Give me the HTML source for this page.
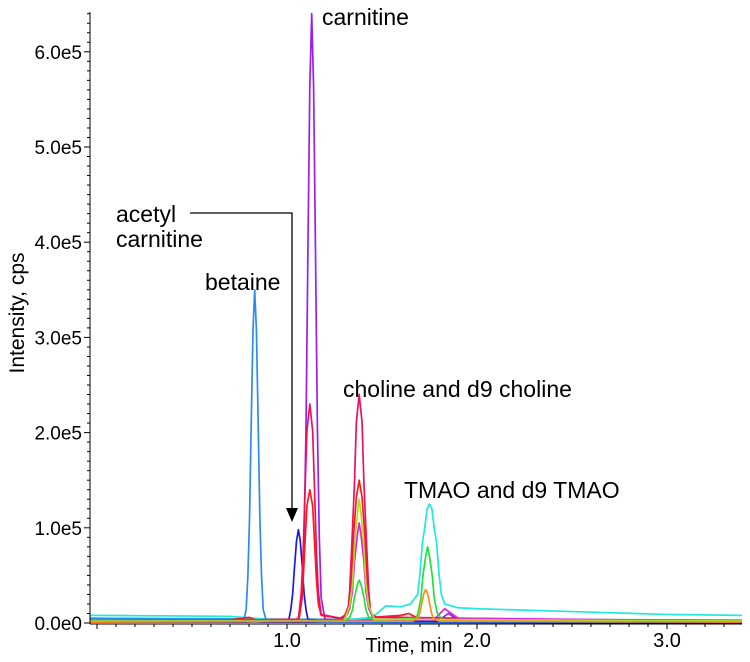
<!DOCTYPE html>
<html><head><meta charset="utf-8"><style>
body{margin:0;background:#fff;}
svg{display:block;font-family:"Liberation Sans",Arial,sans-serif;}
</style></head><body>
<svg id="chart" width="750" height="662">
<g id="traces"></g>
<g id="axes"></g>
<g id="labels">
<text x="322" y="25" font-size="23">carnitine</text>
<text x="116" y="222" font-size="23">acetyl</text>
<text x="116" y="247" font-size="23">carnitine</text>
<text x="205" y="290" font-size="23">betaine</text>
<text x="343" y="397" font-size="23">choline and d9 choline</text>
<text x="404" y="498" font-size="23">TMAO and d9 TMAO</text>
<polyline points="190,213 292,213 292,508" fill="none" stroke="#000" stroke-width="1.3"/>
<polygon points="286,508 298,508 292,522" fill="#000"/>
<text x="24" y="313" font-size="21" transform="rotate(-90 24 313)" text-anchor="middle">Intensity, cps</text>
<text x="409" y="652" font-size="20" text-anchor="middle">Time, min</text>
</g>
</svg>
<script>
const yTicks=[0,100000,200000,300000,400000,500000,600000];
const yTickLabels=["0.0e0","1.0e5","2.0e5","3.0e5","4.0e5","5.0e5","6.0e5"];
const xTicks=[1,2,3];
const xTickLabels=["1.0","2.0","3.0"];
const seriesNames=["baseline-navy","baseline-teal","cyan-tmao","betaine","acetylcarnitine","carnitine","red","crimson","magenta","green","yellowgreen","orange"];
const seriesColors=["#1010a0","#3aa0c0","#22e8e0","#2a8cf0","#1a1ad8","#9a1ef0","#ff1a1a","#f0105a","#e020e0","#22e040","#a8e020","#ff8c1a"];
const navyData=[[-0.04,1000],[0.8,1000],[0.83,4000],[0.86,1000],[3.4,0]];
const tealData=[[-0.04,5000],[1.0,4000],[2.0,4000],[3.4,3000]];
const cyanData=[[-0.04,8000],[0.7,7000],[0.95,3000],[1.3,3000],[1.45,6000],[1.52,18000],[1.6,17000],[1.65,20000],[1.6875,30000],[1.7,52000],[1.7125,84000],[1.725,100000],[1.7375,120000],[1.75,125000],[1.7625,120000],[1.775,100000],[1.7875,84000],[1.8,52000],[1.8125,30000],[1.83,20000],[1.9,16000],[2.0,15000],[2.5,12000],[3.0,9000],[3.4,8000]];
const betaineData=[[-0.04,5000],[0.7,4000],[0.775,5000],[0.785,14000],[0.794,49000],[0.803,112000],[0.812,213000],[0.821,308000],[0.83,350000],[0.839,308000],[0.848,213000],[0.857,112000],[0.866,49000],[0.875,14000],[0.89,3000],[1.2,1000],[3.4,1000]];
const acetylData=[[-0.04,2000],[0.98,1000],[1.01,4000],[1.02,14000],[1.03,31000],[1.04,60000],[1.05,86000],[1.06,98000],[1.07,86000],[1.08,60000],[1.09,31000],[1.1,14000],[1.11,4000],[1.2,2000],[3.4,1000]];
const carnitineData=[[-0.04,2000],[1.06,3000],[1.08,26000],[1.09,90000],[1.1,205000],[1.11,390000],[1.12,563000],[1.13,640000],[1.14,563000],[1.15,390000],[1.16,205000],[1.17,90000],[1.18,26000],[1.2,4000],[1.3,2000],[1.8,3000],[1.85,10000],[1.9,3000],[3.4,2000]];
const redData=[[-0.04,1000],[0.7,3000],[0.8,6000],[0.85,2000],[1.05,4000],[1.065,6000],[1.075,20000],[1.085,45000],[1.095,85000],[1.105,123000],[1.12,140000],[1.135,123000],[1.145,85000],[1.155,45000],[1.165,20000],[1.18,8000],[1.28,5000],[1.3,6000],[1.33,21000],[1.34,48000],[1.35,91000],[1.365,132000],[1.38,150000],[1.395,132000],[1.41,91000],[1.42,48000],[1.43,21000],[1.45,6000],[1.6,8000],[1.64,10000],[1.7,4000],[3.4,1000]];
const crimsonData=[[-0.04,1000],[1.06,4000],[1.075,32000],[1.085,74000],[1.095,140000],[1.105,202000],[1.12,230000],[1.135,202000],[1.145,140000],[1.155,74000],[1.165,32000],[1.18,9000],[1.28,5000],[1.32,10000],[1.33,34000],[1.34,77000],[1.355,146000],[1.365,211000],[1.38,240000],[1.395,211000],[1.405,146000],[1.42,77000],[1.43,34000],[1.44,10000],[1.47,6000],[1.6,6000],[3.4,1000]];
const magentaData=[[-0.04,3000],[1.3,3000],[1.33,15000],[1.345,34000],[1.355,64000],[1.37,92000],[1.38,105000],[1.39,92000],[1.405,64000],[1.415,34000],[1.43,15000],[1.46,4000],[1.78,5000],[1.83,15000],[1.9,5000],[3.4,2000]];
const greenData=[[-0.04,2000],[1.3,2000],[1.33,6000],[1.345,14000],[1.355,27000],[1.37,40000],[1.38,45000],[1.39,40000],[1.405,27000],[1.415,14000],[1.43,6000],[1.46,3000],[1.68,5000],[1.69,11000],[1.705,26000],[1.715,49000],[1.73,70000],[1.74,80000],[1.75,70000],[1.765,49000],[1.775,26000],[1.79,11000],[1.82,3000],[3.4,2000]];
const yellowgreenData=[[-0.04,2000],[1.3,2000],[1.33,18000],[1.345,42000],[1.355,79000],[1.37,114000],[1.38,130000],[1.39,114000],[1.405,79000],[1.415,42000],[1.43,18000],[1.46,4000],[3.4,2000]];
const orangeData=[[-0.04,1000],[1.66,2000],[1.69,5000],[1.7,11000],[1.71,21000],[1.72,31000],[1.73,35000],[1.74,31000],[1.75,21000],[1.76,11000],[1.77,5000],[1.8,2000],[3.4,1000]];
const allData=[navyData,tealData,cyanData,betaineData,acetylData,carnitineData,redData,crimsonData,magentaData,greenData,yellowgreenData,orangeData];

const X0=90,X1=742,Y0=623;
function xs(t){return 287+190*(t-1);}
function ys(v){return Y0-95.2*v/100000;}
const NS="http://www.w3.org/2000/svg";
const tr=document.getElementById('traces');
allData.forEach((d,i)=>{
  const p=document.createElementNS(NS,'polyline');
  p.setAttribute('points',d.map(q=>Math.max(X0,Math.min(X1,xs(q[0])))+','+ys(q[1])).join(' '));
  p.setAttribute('fill','none');p.setAttribute('stroke',seriesColors[i]);p.setAttribute('stroke-width','1.7');
  p.setAttribute('stroke-linejoin','round');
  
  
  tr.appendChild(p);
});
const ax=document.getElementById('axes');
function line(x1,y1,x2,y2,name){
  const l=document.createElementNS(NS,'line');
  l.setAttribute('x1',x1);l.setAttribute('y1',y1);l.setAttribute('x2',x2);l.setAttribute('y2',y2);
  l.setAttribute('stroke','#000');l.setAttribute('stroke-width','1');
  
  
  ax.appendChild(l);
}
line(X0,12,X0,Y0+1,'y-axis');
line(X0,Y0+1,X1,Y0+1,'x-axis');
for(let v=0;v<=650000;v+=10000){const y=ys(v);if(y<12)break;line(X0-(v%100000===0?6:3),y,X0,y,'y-tick');}
for(let t=0;t<=3.4;t+=0.1){const x=xs(t);if(x<X0)continue;line(x,Y0+1,x,Y0+(Math.abs(t-Math.round(t))<0.01?6:4),'x-tick');}
yTicks.forEach((v,i)=>{
  const t=document.createElementNS(NS,'text');
  t.setAttribute('x',82);t.setAttribute('y',ys(v)+7);t.setAttribute('text-anchor','end');t.setAttribute('font-size','19');
  t.textContent=yTickLabels[i];
  
  
  ax.appendChild(t);
});
xTicks.forEach((v,i)=>{
  const t=document.createElementNS(NS,'text');
  t.setAttribute('x',xs(v));t.setAttribute('y',647);t.setAttribute('text-anchor','middle');t.setAttribute('font-size','20');
  t.textContent=xTickLabels[i];
  
  
  ax.appendChild(t);
});
</script>
</body></html>
